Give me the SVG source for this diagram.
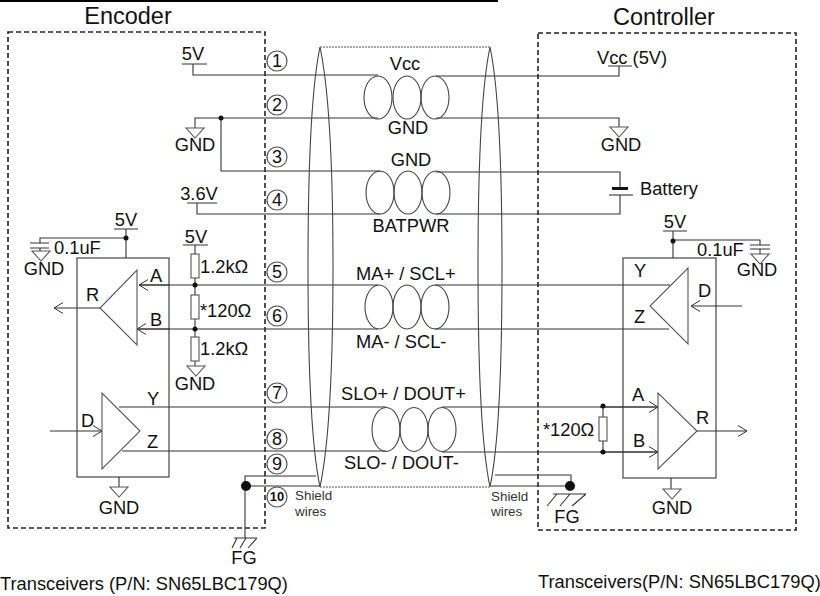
<svg xmlns="http://www.w3.org/2000/svg" width="820" height="596" viewBox="0 0 820 596">
<style>
text{font-family:"Liberation Sans",Arial,sans-serif;font-size:18.3px;fill:#111}
.m{text-anchor:middle}
.t{font-size:23.5px}
.s{font-size:13.4px;fill:#333}
.n{font-size:18px;text-anchor:middle}
.w{fill:none;stroke:#333;stroke-width:1.1}
.b{fill:none;stroke:#222;stroke-width:1.6;stroke-dasharray:5 3}
.c{fill:#fff;stroke:#555;stroke-width:1.2}
.g{fill:#fff;stroke:#555;stroke-width:1.1}
.d{fill:#111}
.e{fill:none;stroke:#444;stroke-width:1.1}
</style>
<defs>
<marker id="a" markerUnits="userSpaceOnUse" markerWidth="12" markerHeight="14" refX="10" refY="6" orient="auto"><path d="M1 0.5L10 6L1 11.5" fill="none" stroke="#333" stroke-width="1"/></marker>
<path id="gnd" d="M-9 0H9L0 10Z" class="g"/>
</defs>
<rect width="498" height="2" fill="#000"/>

<g id="encoder">
<rect x="8" y="32" width="257" height="496" class="b"/>
<text x="128" y="24" class="t m">Encoder</text>
<text x="0" y="590">Transceivers (P/N: SN65LBC179Q)</text>
</g>
<g id="controller">
<rect x="538" y="33" width="258" height="497" class="b"/>
<text x="664" y="25" class="t m">Controller</text>
<text x="538" y="588">Transceivers(P/N: SN65LBC179Q)</text>
</g>

<g id="connectors">
<path class="w" d="M182 64H207M193 64V75H378"/>
<path class="w" d="M436 76H619V66M608 66H632"/>
<path class="w" d="M195 128V118H378M436 118H619V127"/>
<path class="w" d="M221 118V171H380M436 172H620V188M620 195V214H436M380 214H197V203M187 203H217"/>
<path class="w" d="M139 285H378M435 285H670"/>
<path class="w" d="M137 329H378M435 329H669"/>
<path class="w" d="M119 407H386M442 407H658"/>
<path class="w" d="M122 451H386M442 452H658"/>
<path class="w" d="M316 476H245V538M246 486H320"/>
<path class="w" d="M495 475H571V486M491 486H570"/>
<path class="w" marker-end="url(#a)" d="M170 285H139"/>
<path class="w" marker-end="url(#a)" d="M170 329H137"/>
<path class="w" marker-end="url(#a)" d="M100 308H54"/>
<path class="w" marker-end="url(#a)" d="M50 431H102"/>
<path class="w" marker-end="url(#a)" d="M600 407H658"/>
<path class="w" marker-end="url(#a)" d="M600 452H658"/>
<path class="w" marker-end="url(#a)" d="M742 306H691"/>
<path class="w" marker-end="url(#a)" d="M697 431H747"/>
</g>

<g id="cable">
<path class="e" d="M320 47C312 85 308 160 308 267C308 374 312 449 320 487C328 449 333 374 333 267C333 160 328 85 320 47Z"/>
<path class="e" d="M490 47C482 85 478 160 478 267C478 374 482 449 490 487C498 449 502 374 502 267C502 160 498 85 490 47Z"/>
<path d="M320 47H490M320 487H490" fill="none" stroke="#555" stroke-width="1" stroke-dasharray="2 1"/>
</g>

<g id="twist-vcc" fill="none">
<ellipse cx="378" cy="97.5" rx="14" ry="21.5" class="e"/><ellipse cx="407" cy="97.5" rx="14" ry="21.5" class="e"/><ellipse cx="435" cy="97.5" rx="14" ry="21.5" class="e"/>
<text x="405" y="70" class="m">Vcc</text><text x="408" y="134" class="m">GND</text>
</g>
<g id="twist-bat">
<ellipse cx="380" cy="192.5" rx="14" ry="21.5" class="e"/><ellipse cx="408" cy="192.5" rx="14" ry="21.5" class="e"/><ellipse cx="436" cy="192.5" rx="14" ry="21.5" class="e"/>
<text x="411" y="166" class="m">GND</text><text x="411" y="232" class="m">BATPWR</text>
</g>
<g id="twist-ma">
<ellipse cx="379" cy="307" rx="14" ry="22" class="e"/><ellipse cx="407" cy="307" rx="14" ry="22" class="e"/><ellipse cx="435" cy="307" rx="14" ry="22" class="e"/>
<text x="356" y="280">MA+ / SCL+</text><text x="356" y="348">MA- / SCL-</text>
</g>
<g id="twist-slo">
<ellipse cx="386" cy="429.5" rx="14" ry="22" class="e"/><ellipse cx="414" cy="429.5" rx="14" ry="22" class="e"/><ellipse cx="442" cy="429.5" rx="14" ry="22" class="e"/>
<text x="341" y="400">SLO+ / DOUT+</text><text x="344" y="469">SLO- / DOUT-</text>
</g>

<g id="pins">
<g class="c"><circle cx="277" cy="61" r="10"/><circle cx="277" cy="105" r="10"/><circle cx="277" cy="157" r="10"/><circle cx="277" cy="200" r="10"/><circle cx="277" cy="272" r="10"/><circle cx="277" cy="316" r="10"/><circle cx="277" cy="393" r="10"/><circle cx="277" cy="439" r="10"/><circle cx="277" cy="464" r="10"/><circle cx="277" cy="497" r="10"/></g>
<text x="277" y="67" class="n">1</text><text x="277" y="111" class="n">2</text><text x="277" y="163" class="n">3</text><text x="277" y="206" class="n">4</text><text x="277" y="278" class="n">5</text><text x="277" y="322" class="n">6</text><text x="277" y="399" class="n">7</text><text x="277" y="445" class="n">8</text><text x="277" y="470" class="n">9</text>
<text x="277" y="501" text-anchor="middle" font-weight="700" style="font-size:13px">10</text>
</g>

<g id="enc-power">
<text x="193" y="60" class="m">5V</text>
<text x="199" y="200" class="m">3.6V</text>
<use href="#gnd" x="195" y="128"/><text x="195" y="151" class="m">GND</text>
<circle cx="221" cy="118" r="2.5" class="d"/>
</g>

<g id="enc-receiver">
<rect x="77" y="258" width="92" height="219" class="w"/>
<path class="w" d="M114 229H138M126 229V258M126 238H40V243M30 243H49M30 248H49M40 248V251"/>
<circle cx="126" cy="238" r="2.5" class="d"/>
<text x="126" y="226" class="m">5V</text>
<use href="#gnd" x="41" y="251"/>
<text x="44" y="275" class="m">GND</text>
<text x="54" y="254">0.1uF</text>
<path d="M137 270V345L100 308Z" class="g"/>
<text x="150" y="282">A</text><text x="86" y="301">R</text><text x="150" y="326">B</text>
</g>

<g id="enc-termination">
<path class="w" d="M183 245H208M195 245V366"/>
<rect x="191" y="254" width="8" height="24" class="g"/>
<rect x="191" y="295" width="8" height="24" class="g"/>
<rect x="191" y="337" width="8" height="24" class="g"/>
<circle cx="195" cy="285" r="2.5" class="d"/><circle cx="195" cy="329" r="2.5" class="d"/>
<use href="#gnd" x="196" y="366"/>
<text x="196" y="243" class="m">5V</text>
<text x="200" y="273">1.2kΩ</text><text x="200" y="317">*120Ω</text><text x="200" y="355">1.2kΩ</text>
<text x="195" y="390" class="m">GND</text>
</g>

<g id="enc-driver">
<path d="M102 393V469L140 431Z" class="g"/>
<text x="81" y="427">D</text><text x="147" y="405">Y</text><text x="147" y="448">Z</text>
<path class="w" d="M119 477V487"/>
<use href="#gnd" x="119" y="487"/>
<text x="119" y="514" class="m">GND</text>
</g>

<g id="enc-shield">
<circle cx="246" cy="486" r="5" class="d"/>
<path class="w" d="M234 538H257M232 548L237 538M240 548L246 538M248 548L257 538"/>
<text x="244" y="564" class="m">FG</text>
<text x="295" y="500" class="s">Shield</text><text x="295" y="516" class="s">wires</text>
</g>

<g id="ctl-power">
<text x="597" y="64">Vcc (5V)</text>
<use href="#gnd" x="619" y="127"/><text x="621" y="151" class="m">GND</text>
<rect x="612" y="187" width="16" height="3" fill="#111"/>
<path class="w" d="M609 195H633"/>
<text x="640" y="195">Battery</text>
</g>

<g id="ctl-driver">
<rect x="623" y="258" width="93" height="220" class="w"/>
<path class="w" d="M663 231H687M673 231V258M673 240H760V245M750 245H770M750 249H770M760 249V254"/>
<circle cx="673" cy="241" r="2.5" class="d"/>
<text x="675" y="228" class="m">5V</text>
<text x="697" y="256">0.1uF</text>
<use href="#gnd" x="760" y="254"/>
<text x="757" y="276" class="m">GND</text>
<path d="M688 268V344L650 306Z" class="g"/>
<text x="634" y="277">Y</text><text x="698" y="297">D</text><text x="634" y="323">Z</text>
</g>

<g id="ctl-receiver">
<path d="M658 393V469L697 431Z" class="g"/>
<text x="632" y="401">A</text><text x="633" y="447">B</text><text x="696" y="424">R</text>
<path class="w" d="M671 478V489M603 406V452"/>
<rect x="599" y="417" width="8" height="24" class="g"/>
<circle cx="603" cy="406" r="2.5" class="d"/><circle cx="603" cy="452" r="2.5" class="d"/>
<text x="543" y="436">*120Ω</text>
<use href="#gnd" x="672" y="489"/>
<text x="672" y="514" class="m">GND</text>
</g>

<g id="ctl-shield">
<circle cx="570" cy="486" r="5" class="d"/>
<path class="w" d="M553 494H586M547 506L557 494M560 506L570 494M572 506L586 494"/>
<text x="567" y="523" class="m">FG</text>
<text x="491" y="501" class="s">Shield</text><text x="491" y="516" class="s">wires</text>
</g>
</svg>
